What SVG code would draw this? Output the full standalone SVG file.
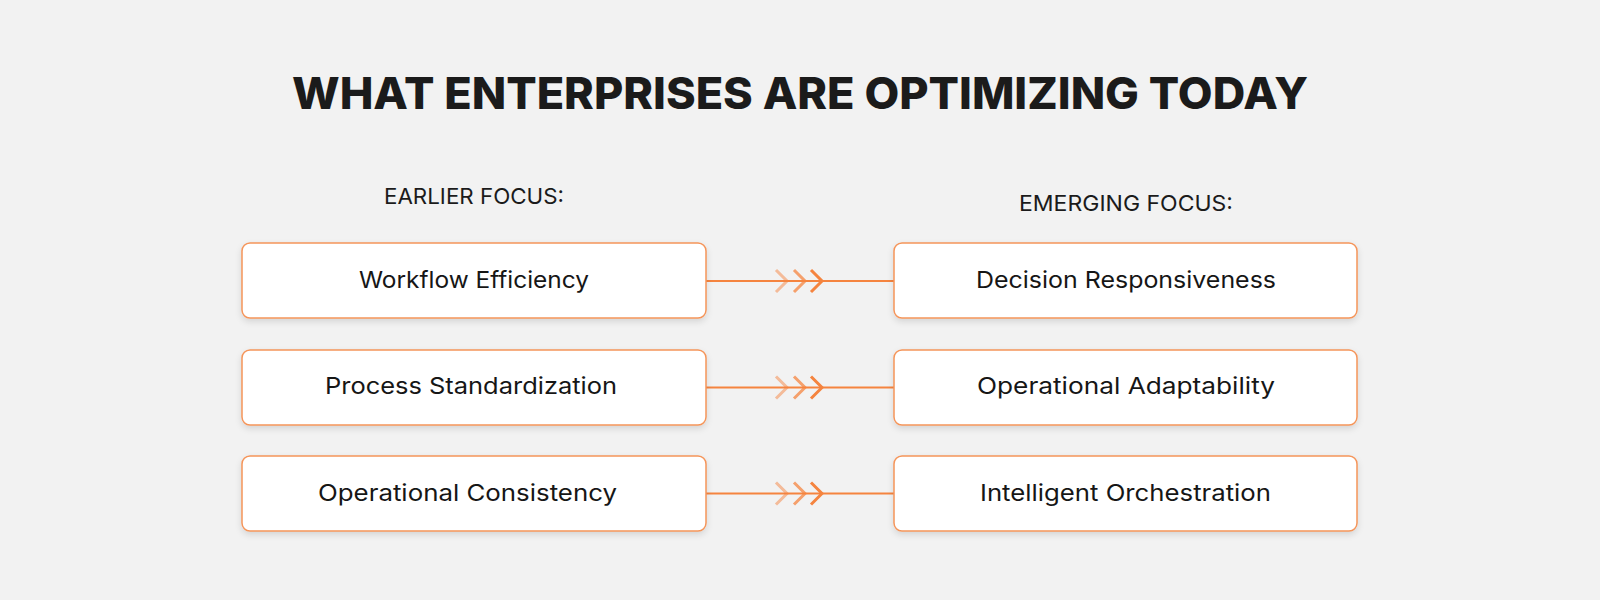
<svg xmlns="http://www.w3.org/2000/svg" width="1600" height="600" viewBox="0 0 1600 600">
  <style>
    .title { font-family: "Inter", "Noto Sans", sans-serif; font-weight: 800; font-size: 44px; fill: #1b1b1b; }
    .sub { font-family: "Inter", "Noto Sans", sans-serif; font-weight: 400; font-size: 22px; fill: #1b1b1b; }
    .lbl { font-family: "Inter", "Noto Sans", sans-serif; font-weight: 400; font-size: 23px; fill: #161616; }
    .box { fill: #ffffff; stroke: #f5955a; stroke-width: 1.5; filter: url(#shadow); }
    .line { stroke: #f5843f; stroke-width: 2; fill: none; }
    .chev { fill: none; stroke: #f5843f; stroke-width: 3; stroke-linecap: butt; stroke-linejoin: miter; }
  </style>
  <defs>
    <filter id="shadow" x="-10%" y="-20%" width="120%" height="160%">
      <feDropShadow dx="0" dy="3" stdDeviation="3" flood-color="#000000" flood-opacity="0.12"/>
    </filter>
  </defs>
  <rect width="1600" height="600" fill="#f2f2f2"/>
  <text class="title" x="800" y="109" text-anchor="middle" textLength="1016" lengthAdjust="spacingAndGlyphs">WHAT ENTERPRISES ARE OPTIMIZING TODAY</text>
  <text class="sub" x="474" y="204" text-anchor="middle" textLength="180" lengthAdjust="spacingAndGlyphs">EARLIER FOCUS:</text>
  <text class="sub" x="1126" y="211" text-anchor="middle" textLength="214" lengthAdjust="spacingAndGlyphs">EMERGING FOCUS:</text>

  <g id="connectors">
    <line class="line" x1="706" y1="281" x2="894" y2="281"/>
    <polyline class="chev" opacity="0.5" points="776,270 787,281 776,292"/>
    <polyline class="chev" opacity="0.75" points="794,270 805,281 794,292"/>
    <polyline class="chev" points="811,270 822,281 811,292"/>
    <line class="line" x1="706" y1="387.5" x2="894" y2="387.5"/>
    <polyline class="chev" opacity="0.5" points="776,376.5 787,387.5 776,398.5"/>
    <polyline class="chev" opacity="0.75" points="794,376.5 805,387.5 794,398.5"/>
    <polyline class="chev" points="811,376.5 822,387.5 811,398.5"/>
    <line class="line" x1="706" y1="493.5" x2="894" y2="493.5"/>
    <polyline class="chev" opacity="0.5" points="776,482.5 787,493.5 776,504.5"/>
    <polyline class="chev" opacity="0.75" points="794,482.5 805,493.5 794,504.5"/>
    <polyline class="chev" points="811,482.5 822,493.5 811,504.5"/>
  </g>

  <g id="node-workflow">
    <rect class="box" x="242" y="243" width="464" height="75" rx="8"/>
    <text class="lbl" x="474" y="288" text-anchor="middle" textLength="230" lengthAdjust="spacingAndGlyphs">Workflow Efficiency</text>
  </g>
  <g id="node-process">
    <rect class="box" x="242" y="350" width="464" height="75" rx="8"/>
    <text class="lbl" x="471" y="394" text-anchor="middle" textLength="292" lengthAdjust="spacingAndGlyphs">Process Standardization</text>
  </g>
  <g id="node-consistency">
    <rect class="box" x="242" y="456" width="464" height="75" rx="8"/>
    <text class="lbl" x="467.5" y="501" text-anchor="middle" textLength="299" lengthAdjust="spacingAndGlyphs">Operational Consistency</text>
  </g>
  <g id="node-decision">
    <rect class="box" x="894" y="243" width="463" height="75" rx="8"/>
    <text class="lbl" x="1126" y="288" text-anchor="middle" textLength="300" lengthAdjust="spacingAndGlyphs">Decision Responsiveness</text>
  </g>
  <g id="node-adaptability">
    <rect class="box" x="894" y="350" width="463" height="75" rx="8"/>
    <text class="lbl" x="1126" y="394" text-anchor="middle" textLength="298" lengthAdjust="spacingAndGlyphs">Operational Adaptability</text>
  </g>
  <g id="node-orchestration">
    <rect class="box" x="894" y="456" width="463" height="75" rx="8"/>
    <text class="lbl" x="1125.5" y="501" text-anchor="middle" textLength="291" lengthAdjust="spacingAndGlyphs">Intelligent Orchestration</text>
  </g>
</svg>
